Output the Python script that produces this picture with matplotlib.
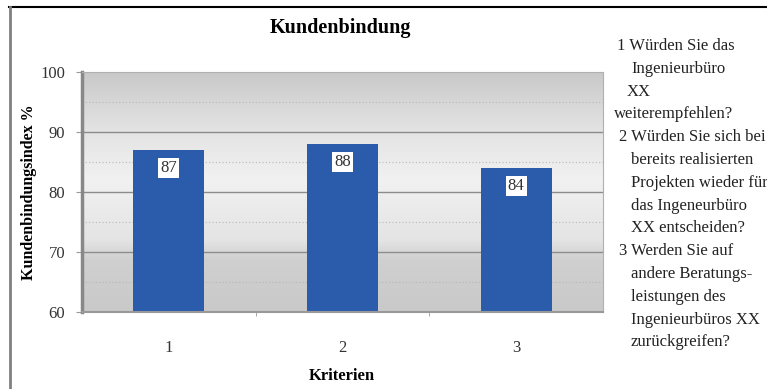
import numpy as np
import matplotlib
matplotlib.use("Agg")
import matplotlib.pyplot as plt
from matplotlib.colors import LinearSegmentedColormap
from matplotlib.lines import Line2D

# Daten
kriterien = ["1", "2", "3"]
index_werte = [87, 88, 84]
y_ticks = [60, 70, 80, 90, 100]
legende = [
    ("1 Würden Sie das", 617),
    ("Ingenieurbüro", 631),
    ("XX", 627),
    ("weiterempfehlen?", 614),
    ("2 Würden Sie sich bei", 619),
    ("bereits realisierten", 631),
    ("Projekten wieder für", 631),
    ("das Ingeneurbüro", 631),
    ("XX entscheiden?", 631),
    ("3 Werden Sie auf", 619),
    ("andere Beratungs-", 631),
    ("leistungen des", 631),
    ("Ingenieurbüros XX", 631),
    ("zurückgreifen?", 631),
]

plt.rcParams["font.family"] = ["Liberation Serif", "DejaVu Serif"]

fig = plt.figure(figsize=(7.67, 3.89), dpi=100)
W, H = 767, 389
ax = fig.add_axes([82 / W, 1 - 312 / H, (603 - 82) / W, (312 - 72) / H])

# Hintergrund mit Verlauf
cmap = LinearSegmentedColormap.from_list(
    "bg", [(0, "#c9c9c9"), (0.22, "#d0d0d0"), (0.3, "#e4e4e4"),
           (0.55, "#f1f1f1"), (0.75, "#e4e4e4"), (1, "#c9c9c9")])
grad = np.linspace(1, 0, 256).reshape(-1, 1)
ax.imshow(grad, aspect="auto", cmap=cmap, extent=[-0.5, 2.5, 60, 100],
          origin="upper", zorder=0)

x = np.arange(len(kriterien))
ax.set_xlim(-0.5, 2.5)
ax.set_ylim(60, 100)

for y in [70, 80, 90]:
    ax.axhline(y, color="#8c8c8c", lw=1.0, zorder=1)
for y in [65, 75, 85, 95]:
    ax.axhline(y, color="#b8b8b8", lw=0.8, ls=(0, (1, 2)), zorder=1)

bars = ax.bar(x, [v - 60 for v in index_werte], bottom=60, width=0.41,
              color="#2b5cab", zorder=2)
for xi, v in zip(x, index_werte):
    ax.text(xi, v - 3, str(v), ha="center", va="center", fontsize=12,
            color="#333333", zorder=3,
            bbox=dict(boxstyle="square,pad=0.12", fc="white", ec="none"))

ax.set_yticks(y_ticks)
ax.set_yticklabels([str(t) for t in y_ticks], fontsize=12, color="#333333")
ax.set_xticks(x)
ax.set_xticklabels(kriterien, fontsize=12, color="#333333")
ax.set_xticks([0.5, 1.5], minor=True)
ax.tick_params(axis="x", which="major", length=0, pad=20)
ax.tick_params(axis="x", which="minor", length=3, color="#999999")
ax.tick_params(axis="y", length=4, color="#999999", pad=8)
for s in ["top", "right"]:
    ax.spines[s].set_color("#b0b0b0")
    ax.spines[s].set_linewidth(0.8)
ax.spines["left"].set_color("#888888")
ax.spines["left"].set_linewidth(2.5)
ax.spines["bottom"].set_color("#999999")
ax.spines["bottom"].set_linewidth(1.5)

ax.set_ylabel("Kundenbindungsindex %", fontsize=11.5, fontweight="bold")
ax.yaxis.set_label_coords(-45 / (603 - 82), 0.5)
fig.text(342 / W, 1 - 376 / H, "Kriterien", ha="center", va="center",
         fontsize=12, fontweight="bold")
fig.text(340 / W, 1 - 28 / H, "Kundenbindung", ha="center", va="center",
         fontsize=14.5, fontweight="bold")

# Legendentext rechts
for i, (zeile, px) in enumerate(legende):
    fig.text(px / W, 1 - (46 + i * 22.8) / H, zeile,
             ha="left", va="center", fontsize=12, color="#222222")

# Rahmen
fig.add_artist(Line2D([9 / W, 1], [1 - 7 / H] * 2, color="black", lw=1.5,
                      transform=fig.transFigure))
fig.add_artist(Line2D([9.5 / W] * 2, [0, 1 - 7 / H], color="#808080", lw=2,
                      transform=fig.transFigure))

fig.savefig("out.png", dpi=100)
